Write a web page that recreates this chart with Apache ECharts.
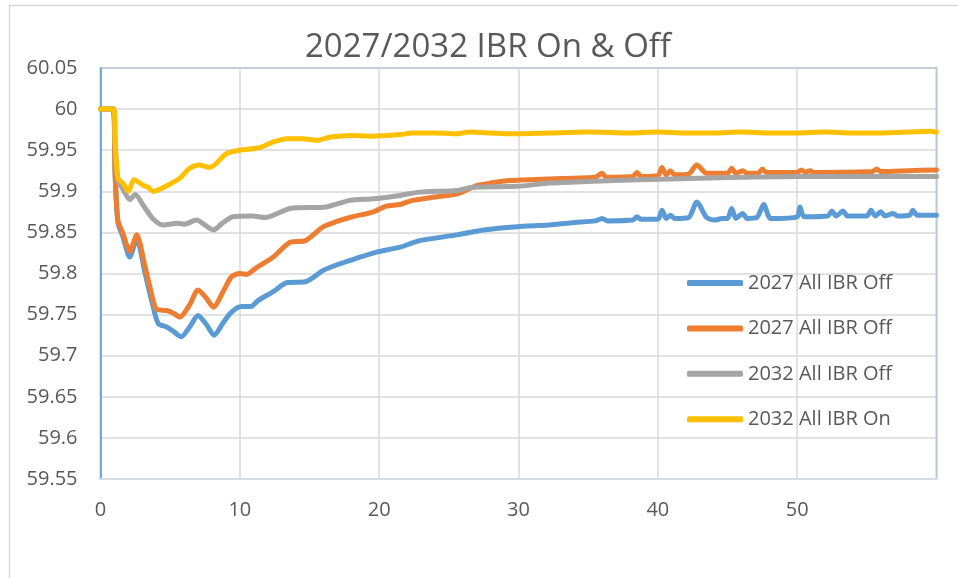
<!DOCTYPE html>
<html>
<head>
<meta charset="utf-8">
<title>2027/2032 IBR On &amp; Off</title>
<script src="https://cdn.jsdelivr.net/npm/echarts@6/dist/echarts.min.js"></script>
<style>
  html, body { margin: 0; padding: 0; background: #ffffff; }
  #chart { width: 958px; height: 578px; }
</style>
</head>
<body>
<div id="chart"></div>
<script>
// Frequency traces, [seconds, Hz]
const off2027A = [
  [0,60],[0.9,60],[1.05,59.92],[1.25,59.862],[1.6,59.845],[2.1,59.820],[2.6,59.842],[3.2,59.800],
  [3.7,59.765],[4.15,59.739],[4.75,59.735],[5.2,59.730],[5.8,59.723],[6.4,59.735],[7.0,59.749],
  [7.6,59.738],[8.15,59.725],[8.8,59.740],[9.4,59.753],[10.1,59.760],[10.8,59.760],[11.3,59.767],
  [12.4,59.778],[13.4,59.789],[14.7,59.790],[16.0,59.804],[17.2,59.812],[18.3,59.818],[19.8,59.826],
  [21.5,59.832],[22.9,59.840],[25.6,59.847],[27.5,59.853],[29.9,59.857],[32.2,59.859],[34,59.862],
  [35.5,59.864],[36.0,59.867],[36.4,59.864],[38.2,59.865],[38.5,59.869],[38.8,59.866],[40.0,59.866],
  [40.3,59.877],[40.6,59.867],[40.9,59.871],[41.2,59.867],[42.2,59.868],[42.8,59.887],[43.5,59.868],
  [44.1,59.865],[44.6,59.867],[45.0,59.867],[45.3,59.879],[45.6,59.867],[46.1,59.873],[46.4,59.867],
  [47.1,59.868],[47.6,59.884],[48.1,59.867],[50.0,59.869],[50.2,59.881],[50.5,59.869],[52.2,59.870],
  [52.5,59.876],[52.8,59.870],[53.3,59.876],[53.6,59.870],[55.0,59.870],[55.3,59.877],[55.6,59.870],
  [56.0,59.875],[56.3,59.870],[56.9,59.873],[57.2,59.870],[58.1,59.871],[58.3,59.877],[58.6,59.871],
  [59.3,59.871],[60,59.871]
];
const off2027B = [
  [0,60],[0.9,60],[1.05,59.92],[1.25,59.864],[1.6,59.849],[2.1,59.827],[2.6,59.847],[3.2,59.808],
  [3.6,59.780],[4.0,59.757],[4.75,59.755],[5.2,59.752],[5.7,59.747],[6.4,59.762],[7.0,59.780],
  [7.6,59.770],[8.1,59.759],[8.8,59.778],[9.4,59.796],[10.0,59.800],[10.5,59.799],[11.1,59.806],
  [12.4,59.820],[13.6,59.838],[14.7,59.840],[16.0,59.857],[16.9,59.863],[18.1,59.869],[19.6,59.875],
  [20.5,59.882],[21.5,59.884],[22.4,59.889],[24,59.893],[25.6,59.897],[27,59.907],[28,59.910],
  [29.4,59.913],[32.2,59.915],[34,59.916],[35.5,59.917],[36.0,59.922],[36.3,59.917],[38.2,59.918],
  [38.5,59.923],[38.8,59.918],[40.0,59.919],[40.3,59.929],[40.6,59.920],[40.9,59.925],[41.2,59.920],
  [42.2,59.921],[42.8,59.932],[43.5,59.922],[45.0,59.922],[45.3,59.928],[45.6,59.922],[46.1,59.925],
  [46.4,59.922],[47.2,59.922],[47.5,59.927],[47.8,59.923],[50.0,59.923],[50.3,59.926],[50.6,59.923],
  [50.9,59.925],[51.2,59.923],[55.4,59.924],[55.7,59.927],[56.0,59.924],[58.0,59.925],[60,59.926]
];
const off2032 = [
  [0,60],[0.95,60],[1.05,59.96],[1.25,59.914],[1.6,59.903],[2.1,59.890],[2.5,59.896],[3.1,59.882],
  [3.8,59.866],[4.5,59.859],[5.5,59.861],[6.0,59.860],[6.9,59.865],[7.4,59.860],[8.1,59.853],
  [8.8,59.862],[9.5,59.869],[10.9,59.870],[11.8,59.868],[13.6,59.879],[16.2,59.881],[17.9,59.889],
  [19.6,59.891],[21.5,59.895],[22.9,59.899],[25.6,59.901],[26.7,59.905],[29.9,59.906],[32.2,59.910],
  [35,59.912],[38.7,59.914],[43,59.916],[46,59.917],[50,59.918],[55,59.918],[60,59.918]
];
const on2032 = [
  [0,60],[0.95,60],[1.05,59.96],[1.25,59.916],[1.6,59.910],[2.0,59.900],[2.4,59.914],[3.1,59.907],
  [3.4,59.905],[3.8,59.900],[5.0,59.909],[5.7,59.916],[6.4,59.928],[7.1,59.932],[7.85,59.929],
  [9.05,59.946],[10.0,59.950],[11.4,59.953],[12.4,59.960],[13.4,59.964],[14.5,59.964],[15.5,59.962],
  [16.5,59.966],[18.1,59.968],[19.5,59.967],[21.5,59.969],[22.4,59.971],[24,59.971],[25.5,59.970],
  [26.5,59.972],[28,59.971],[29.4,59.970],[32.2,59.971],[35,59.972],[38,59.971],[40,59.972],
  [42,59.971],[44,59.971],[46,59.972],[48,59.971],[50,59.971],[52,59.972],[54,59.971],[56,59.971],
  [58,59.972],[59.5,59.973],[60,59.972]
];

const seriesLabels = ['2027 All IBR Off', '2027 All IBR Off', '2032 All IBR Off', '2032 All IBR On'];
const seriesColors = ['#5B9BD5', '#ED7D31', '#A5A5A5', '#FFC000'];
const seriesData = [off2027A, off2027B, off2032, on2032];

const xTicks = { min: 0, max: 60, step: 10 };
const yTicks = { min: 59.55, max: 60.05, step: 0.05 };

const FONT = '"Open Sans", "Noto Sans", sans-serif';
const TEXT = '#595959';

const chart = echarts.init(document.getElementById('chart'), null, { renderer: 'canvas' });

const series = seriesData.map((d, i) => ({
  name: 's' + i,
  type: 'line',
  data: d,
  showSymbol: false,
  smooth: 0.25,
  color: seriesColors[i],
  lineStyle: { width: 5, color: seriesColors[i], cap: 'round', join: 'round' },
  emphasis: { disabled: true },
  z: 2 + i
}));

chart.setOption({
  animation: false,
  backgroundColor: '#ffffff',
  graphic: [{
    type: 'rect',
    silent: true,
    shape: { x: 9.5, y: 5.5, width: 980, height: 620 },
    style: { fill: 'none', stroke: '#D9D9D9', lineWidth: 1.5 },
    z: -1
  }],
  title: {
    text: '2027/2032 IBR On & Off',
    left: 300,
    top: 26,
    textStyle: { fontFamily: FONT, fontSize: 33, fontWeight: 'normal', color: TEXT }
  },
  grid: {
    left: 100.5, top: 68, width: 836, height: 411,
    show: true, borderColor: '#5B9BD5', borderWidth: 1.5
  },
  legend: {
    orient: 'vertical',
    left: 687,
    top: 273,
    padding: 0,
    itemWidth: 56,
    itemHeight: 6,
    itemGap: 25.4,
    icon: 'roundRect',
    data: seriesData.map((d, i) => ({ name: 's' + i, itemStyle: { color: seriesColors[i] } })),
    formatter: name => seriesLabels[Number(name.slice(1))],
    textStyle: { fontFamily: FONT, fontSize: 20, color: TEXT, lineHeight: 20 },
    selectedMode: false
  },
  xAxis: {
    type: 'value',
    min: xTicks.min, max: xTicks.max, interval: xTicks.step,
    axisLine: { show: true, lineStyle: { color: '#D6DCE5', width: 2 } },
    axisTick: { show: false },
    axisLabel: {
      margin: 21,
      fontFamily: FONT, fontSize: 20, color: TEXT,
      formatter: v => (v >= xTicks.max ? '' : String(v))
    },
    splitLine: { show: true, lineStyle: { color: '#D9D9D9', width: 1.5 } }
  },
  yAxis: {
    type: 'value',
    min: yTicks.min, max: yTicks.max, interval: yTicks.step,
    axisLine: { show: true, lineStyle: { color: '#5B9BD5', width: 1.5 } },
    axisTick: { show: false },
    axisLabel: {
      margin: 23,
      fontFamily: FONT, fontSize: 20, color: TEXT,
      formatter: v => String(parseFloat(v.toFixed(2)))
    },
    splitLine: { show: true, lineStyle: { color: '#D9D9D9', width: 1.5 } }
  },
  series: series
});
</script>
</body>
</html>
